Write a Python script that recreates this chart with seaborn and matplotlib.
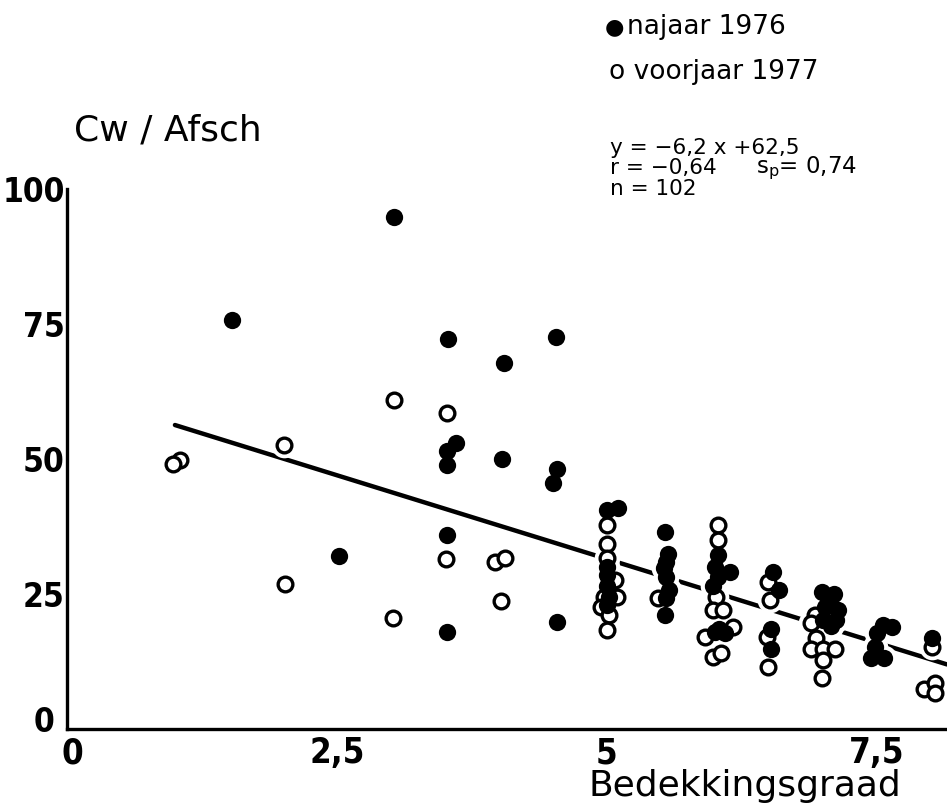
import matplotlib
matplotlib.use("Agg")
import matplotlib.pyplot as plt
import matplotlib.transforms as mtransforms
import seaborn as sns
import numpy as np

# ---- data ----
# najaar 1976 (filled)
najaar_x = [1.53, 2.52, 3.03, 3.53, 4.53, 4.05, 3.60, 3.52, 3.52, 4.03, 4.54, 4.50, 3.52, 3.52, 4.54,
            5.00, 5.10, 5.00, 5.00, 5.00, 5.02, 5.00,
            5.54, 5.57, 5.55, 5.53, 5.55, 5.58, 5.55, 5.54,
            6.03, 6.00, 6.14, 6.03, 5.98, 6.04, 6.00, 6.09,
            6.54, 6.59, 6.52, 6.52,
            6.99, 7.10, 7.14, 7.02, 7.00, 7.12, 7.08, 7.05,
            7.56, 7.64, 7.50, 7.48, 7.45, 7.57,
            8.01]
najaar_y = [75.7, 32.0, 94.9, 72.3, 72.6, 67.7, 53.0, 51.5, 48.9, 50.1, 48.1, 45.5, 36.0, 18.0, 19.9,
            40.5, 41.0, 30.0, 28.5, 26.5, 24.5, 23.0,
            36.5, 32.5, 31.0, 29.8, 28.2, 25.7, 24.2, 21.1,
            32.2, 30.1, 29.1, 28.2, 26.4, 18.6, 18.0, 17.8,
            29.1, 25.7, 18.6, 14.9,
            25.4, 25.1, 22.0, 22.6, 20.2, 20.2, 19.0, 23.5,
            19.3, 18.9, 17.7, 15.2, 13.1, 13.1,
            16.8]

# voorjaar 1977 (open)
voorjaar_x = [1.05, 0.98, 2.01, 2.02, 3.03, 3.52, 3.51, 3.96, 4.06, 4.02, 3.02,
              5.00, 5.00, 5.00, 5.08, 4.97, 5.09, 4.95, 5.02, 5.00,
              5.47,
              6.03, 6.03, 6.01, 5.98, 6.08, 5.91, 6.17, 5.98, 6.06,
              6.49, 6.51, 6.48, 6.49,
              6.93, 6.89, 6.94, 6.89, 7.00, 7.11, 7.00, 6.99,
              8.01, 7.94, 8.04, 8.04]
voorjaar_y = [49.8, 49.0, 52.6, 26.9, 60.9, 58.6, 31.5, 31.0, 31.6, 23.8, 20.5,
              37.8, 34.2, 31.6, 27.6, 24.5, 24.5, 22.6, 21.2, 18.3,
              24.2,
              37.8, 35.0, 24.5, 22.0, 22.0, 17.1, 18.9, 13.4, 14.0,
              27.3, 23.9, 17.1, 11.5,
              21.1, 19.6, 16.8, 14.9, 14.9, 14.9, 12.8, 9.4,
              15.2, 7.5, 8.5, 6.6]

# regression line stated on the chart: y = -6,2 x + 62,5 (x from 1 to the right edge)
slope = -6.2
intercept = 62.5
line_x = [1.0, 8.15]

xticks = [0, 2.5, 5, 7.5]
xtick_labels = ["0", "2,5", "5", "7,5"]
yticks = [0, 25, 50, 75, 100]
ytick_labels = ["0", "25", "50", "75", "100"]

legend_filled = "najaar 1976"
legend_open = "voorjaar 1977"
eq_lines = ["y = \u22126,2 x +62,5", "r = \u22120,64", "n = 102"]
sp_text = "s$_\\mathregular{p}$= 0,74"
ylabel_text = "Cw / Afsch"
xlabel_text = "Bedekkingsgraad"

# ---- figure ----
sns.set_style("white")
plt.rcParams["font.family"] = ["DejaVu Sans"]
plt.rcParams["text.color"] = "black"
plt.rcParams["xtick.color"] = "black"
plt.rcParams["ytick.color"] = "black"

W, H = 947, 809
fig = plt.figure(figsize=(W / 100, H / 100), dpi=100)
ax = fig.add_axes([0, 0, 1, 1])
ax.set_xlim(-0.62, 8.15)
ax.set_ylim(-14.8, 135.0)

line_y = [slope * v + intercept for v in line_x]
sns.lineplot(x=line_x, y=line_y, ax=ax, color="black", lw=3.2, zorder=2)

# white halo beneath markers to break the line like in the print
all_x = najaar_x + voorjaar_x
all_y = najaar_y + voorjaar_y
sns.scatterplot(x=all_x, y=all_y, ax=ax, s=340, color="white", edgecolor="white",
                linewidth=0, zorder=3)

sns.scatterplot(x=voorjaar_x, y=voorjaar_y, ax=ax, s=112, marker="o",
                facecolor="white", edgecolor="black", linewidth=2.4, zorder=4)
sns.scatterplot(x=najaar_x, y=najaar_y, ax=ax, s=155, marker="o",
                color="black", edgecolor="black", linewidth=0, zorder=5)

# axes
for s in ["top", "right"]:
    ax.spines[s].set_visible(False)
ax.spines["left"].set_position(("data", 0))
ax.spines["bottom"].set_position(("data", 0))
ax.spines["left"].set_bounds(0, 100)
ax.spines["bottom"].set_bounds(0, 8.15)
for s in ["left", "bottom"]:
    ax.spines[s].set_linewidth(2.4)
    ax.spines[s].set_color("black")

ax.set_xticks(xticks)
ax.set_xticklabels(xtick_labels)
ax.set_yticks(yticks)
ax.set_yticklabels(ytick_labels)
ax.tick_params(axis="y", direction="in", length=8, width=2.2, pad=1.5, labelsize=24,
               labelcolor="black")
ax.tick_params(axis="x", direction="in", length=9, width=2.2, pad=5, labelsize=25,
               labelcolor="black")
for lab in ax.get_xticklabels() + ax.get_yticklabels():
    lab.set_fontweight("bold")
    lab.set_fontstretch("condensed")

# the two zeros at the origin sit apart, as in the print
ylab0 = ax.get_yticklabels()[0]
ylab0.set_transform(ylab0.get_transform() +
                    mtransforms.ScaledTranslation(-10 / 100, 10 / 100, fig.dpi_scale_trans))
xlab0 = ax.get_xticklabels()[0]
xlab0.set_transform(xlab0.get_transform() +
                    mtransforms.ScaledTranslation(5 / 100, 0, fig.dpi_scale_trans))
ax.set_xlabel("")
ax.set_ylabel("")

def px(x, y):
    return x / W, 1 - y / H

fig.text(*px(74, 131), ylabel_text, fontsize=26, va="center", ha="left")
fig.text(*px(588, 786), xlabel_text, fontsize=26, va="center", ha="left")

fig.text(*px(605, 27), "\u25cf", fontsize=16, va="center", ha="left")
fig.text(*px(627, 27), legend_filled, fontsize=19, va="center", ha="left")
fig.text(*px(609, 72), "o " + legend_open, fontsize=19, va="center", ha="left")
fig.text(*px(610, 148), eq_lines[0], fontsize=15.5, va="center", ha="left")
fig.text(*px(610, 168), eq_lines[1], fontsize=15.5, va="center", ha="left")
fig.text(*px(756, 168), sp_text, fontsize=16.5, va="center", ha="left")
fig.text(*px(610, 189), eq_lines[2], fontsize=15.5, va="center", ha="left")

fig.savefig("out.png", dpi=100)
